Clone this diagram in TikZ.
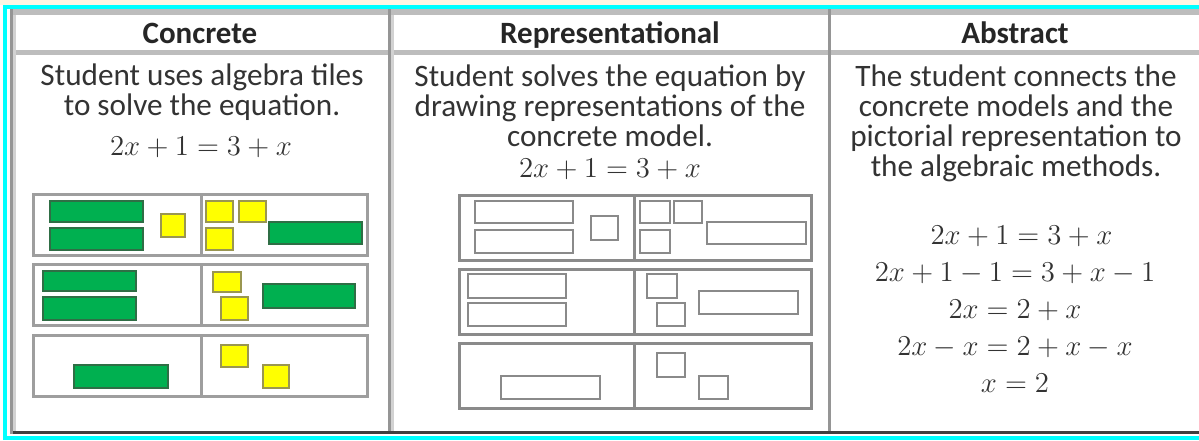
\documentclass[tikz,border=0pt]{standalone}
\usepackage{fontspec}
\setmainfont{Carlito}
\usetikzlibrary{positioning}
\definecolor{cream}{HTML}{FFF6E3}
\definecolor{framecyan}{HTML}{00FFFF}
\definecolor{tilegreen}{HTML}{00B050}
\definecolor{greenedge}{HTML}{2F6E45}
\definecolor{tileyellow}{HTML}{FFFF00}
\definecolor{yellowedge}{HTML}{9A9650}
\definecolor{ruledark}{HTML}{959595}
\definecolor{rulelight}{HTML}{D2D2D2}
\definecolor{rulemid}{HTML}{BDBDBD}
\definecolor{gridgray}{HTML}{9E9E9E}
\definecolor{sketchgray}{HTML}{8A8A8A}

\begin{document}
\begin{tikzpicture}[x=0.5pt,y=-0.5pt,
  gtile/.style={draw=greenedge,fill=tilegreen,line width=1pt},
  ytile/.style={draw=yellowedge,fill=tileyellow,line width=1pt},
  rtile/.style={draw=sketchgray,fill=white,line width=1.2pt},
  grid/.style={draw=gridgray,line width=1.5pt},
  sketchgrid/.style={draw=sketchgray,line width=1.5pt},
  head/.style={font=\fontsize{15.5}{15}\selectfont\bfseries,anchor=base,inner sep=0pt,text=black!85},
  body/.style={font=\fontsize{15.6}{15}\selectfont,align=center,anchor=base,inner sep=0pt,text=black!80},
  eqn/.style={font=\fontsize{13.3}{15}\selectfont,anchor=base,inner sep=0pt,text=black!80}]
\useasboundingbox (0,0) rectangle (1199,440);
\fill[white] (0,0) rectangle (1199,440);
\fill[cream] (0,0) rectangle (1199,5);

\draw[framecyan,line width=2pt] (1199,7) -- (4.5,7) -- (4.5,437.5) -- (1199,437.5);

\draw[rulemid,line width=3pt] (10,12) -- (1199,12);
\draw[rulemid,line width=2.5pt] (10,52.5) -- (1199,52.5);
\draw[ruledark,line width=1.5pt] (11.5,9) -- (11.5,434);
\draw[rulelight,line width=1.5pt] (14.5,15) -- (14.5,431);
\draw[ruledark,line width=1.5pt] (389.5,9) -- (389.5,431);
\draw[rulelight,line width=1.5pt] (392.5,15) -- (392.5,431);
\draw[ruledark,line width=1.5pt] (829.5,9) -- (829.5,431);
\draw[black!75,line width=1.5pt] (13,432.5) -- (1199,432.5);

\node[head] (hconc) at (200,43) {Concrete};
\node[head] (hrep) at (610,43) {Representational};
\node[head] (habs) at (1015,43) {Abstract};

\node[body] (dconc) at (202,115) {Student uses algebra tiles\\to solve the equation.};
\node[eqn] (econc) at (201,155) {$2x + 1 = 3 + x$};

\node[body] (drep) at (610,146) {Student solves the equation by\\drawing representations of the\\concrete model.};
\node[eqn] (erep) at (610,177) {$2x + 1 = 3 + x$};

\node[body] (dabs) at (1016,176) {The student connects the\\concrete models and the\\pictorial representation to\\the algebraic methods.};
\node[eqn,align=center,font=\fontsize{13.3}{18.5}\selectfont] (eabs) at (1015,392)
  {$\;\,2x + 1 = 3 + x$\\$2x + 1 - 1 = 3 + x - 1$\\$2x = 2 + x$\\$2x - x = 2 + x - x$\\$x = 2$};

\draw[grid] (33.5,194.5) rectangle (367.5,255);
\draw[grid] (201.5,194.5) -- (201.5,255);
\draw[grid] (33.5,264.5) rectangle (367.5,325);
\draw[grid] (201.5,264.5) -- (201.5,325);
\draw[grid] (33.5,335.5) rectangle (367.5,396);
\draw[grid] (201.5,335.5) -- (201.5,396);

\draw[gtile] (50,201) rectangle (143,222);
\draw[gtile] (50,228) rectangle (143,250);
\draw[ytile] (161,214) rectangle (185,237);
\draw[ytile] (206,201) rectangle (233,222);
\draw[ytile] (239,201) rectangle (266,222);
\draw[ytile] (206,228) rectangle (233,250);
\draw[gtile] (269,222) rectangle (362,244);

\draw[gtile] (43,271) rectangle (136,291);
\draw[gtile] (43,297) rectangle (136,320);
\draw[ytile] (213,272) rectangle (241,292);
\draw[ytile] (221,297) rectangle (248,320);
\draw[gtile] (263,284) rectangle (355,308);

\draw[gtile] (74,365) rectangle (168,388);
\draw[ytile] (221,345) rectangle (248,367);
\draw[ytile] (263,365) rectangle (289,388);

\draw[sketchgrid] (459.5,195.5) rectangle (811.5,260);
\draw[sketchgrid] (634.5,195.5) -- (634.5,260);
\draw[sketchgrid] (459.5,269.5) rectangle (811.5,334.5);
\draw[sketchgrid] (634.5,269.5) -- (634.5,334.5);
\draw[sketchgrid] (459.5,343.5) rectangle (811.5,408.5);
\draw[sketchgrid] (634.5,343.5) -- (634.5,408.5);

\draw[rtile] (475,201) rectangle (573,223);
\draw[rtile] (475,230) rectangle (573,253);
\draw[rtile] (591,216) rectangle (618,240);
\draw[rtile] (640,201) rectangle (670,223);
\draw[rtile] (674,201) rectangle (702,223);
\draw[rtile] (640,230) rectangle (670,253);
\draw[rtile] (707,222) rectangle (806,244);

\draw[rtile] (468,274) rectangle (566,298);
\draw[rtile] (468,303) rectangle (566,326);
\draw[rtile] (647,274) rectangle (677,298);
\draw[rtile] (657,303) rectangle (685,326);
\draw[rtile] (699,291) rectangle (798,314);

\draw[rtile] (501,376) rectangle (600,399);
\draw[rtile] (657,353) rectangle (685,377);
\draw[rtile] (699,376) rectangle (728,399);

\end{tikzpicture}
\end{document}
